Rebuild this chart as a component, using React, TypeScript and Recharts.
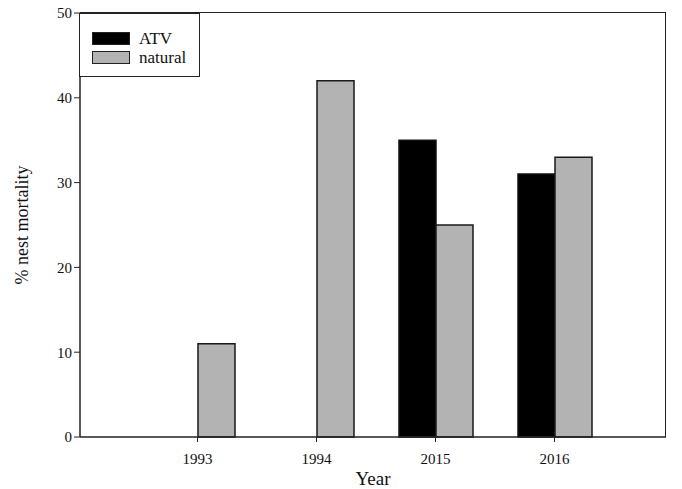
import { Bar, BarChart, XAxis, YAxis } from "recharts";

const years = ["1993", "1994", "2015", "2016"];
const atv = [null, null, 35, 31];
const natural = [11, 42, 25, 33];
const yTicks = [0, 10, 20, 30, 40, 50];

const data = years.map((year, i) => ({ year, atv: atv[i], natural: natural[i] }));

const font = "'Liberation Serif', 'Times New Roman', serif";

function LegendBox() {
  const items = [
    { label: "ATV", fill: "#000000" },
    { label: "natural", fill: "#b3b3b3" },
  ];
  return (
    <div
      style={{
        position: "absolute",
        left: 79,
        top: 13,
        width: 121,
        height: 64,
        border: "1.5px solid #222",
        background: "#fff",
        boxSizing: "border-box",
        padding: "15px 0 0 12px",
        fontFamily: font,
        fontSize: 17,
        color: "#111",
      }}>
      {items.map((it) => (
        <div key={it.label} style={{ display: "flex", alignItems: "center", height: 19 }}>
          <span
            style={{
              display: "inline-block",
              width: 38,
              height: 13,
              background: it.fill,
              border: "1.5px solid #222",
              boxSizing: "border-box",
              marginRight: 9,
            }}
          />
          {it.label}
        </div>
      ))}
    </div>
  );
}

export default function App() {
  return (
    <div style={{ position: "absolute", left: 0, top: 0, width: 682, height: 489, background: "#fff" }}>
      <BarChart
        width={682}
        height={489}
        data={data}
        barSize={37}
        barGap={0}
        margin={{ top: 13, right: 16, left: 0, bottom: 0 }}>
        <XAxis
          dataKey="year"
          height={52}
          padding={{ left: 58, right: 52 }}
          axisLine={{ stroke: "#222", strokeWidth: 1.5 }}
          tickLine={{ stroke: "#222" }}
          tickSize={5}
          tickMargin={11}
          tick={{ fill: "#111", fontSize: 15, fontFamily: font }}
          label={{ value: "Year", position: "insideBottom", offset: 4, fill: "#111", fontSize: 19, fontFamily: font }}
        />
        <YAxis
          width={80}
          domain={[0, 50]}
          ticks={yTicks}
          axisLine={{ stroke: "#222", strokeWidth: 1.5 }}
          tickLine={{ stroke: "#222" }}
          tickSize={6}
          tick={{ fill: "#111", fontSize: 15, fontFamily: font }}
          label={{
            value: "% nest mortality",
            angle: -90,
            position: "insideLeft",
            offset: 22,
            style: { textAnchor: "middle" },
            fill: "#111",
            fontSize: 18,
            fontFamily: font,
          }}
        />
        <Bar dataKey="atv" name="ATV" fill="#000000" stroke="#111" strokeWidth={1.5} isAnimationActive={false} />
        <Bar
          dataKey="natural"
          name="natural"
          fill="#b3b3b3"
          stroke="#1a1a1a"
          strokeWidth={1.5}
          isAnimationActive={false}
        />
      </BarChart>
      {/* top and right frame of the plot area */}
      <div
        style={{
          position: "absolute",
          left: 80,
          top: 12,
          width: 586,
          height: 425,
          borderTop: "1.5px solid #222",
          borderRight: "1.5px solid #222",
          boxSizing: "border-box",
          pointerEvents: "none",
        }}
      />
      <LegendBox />
    </div>
  );
}
